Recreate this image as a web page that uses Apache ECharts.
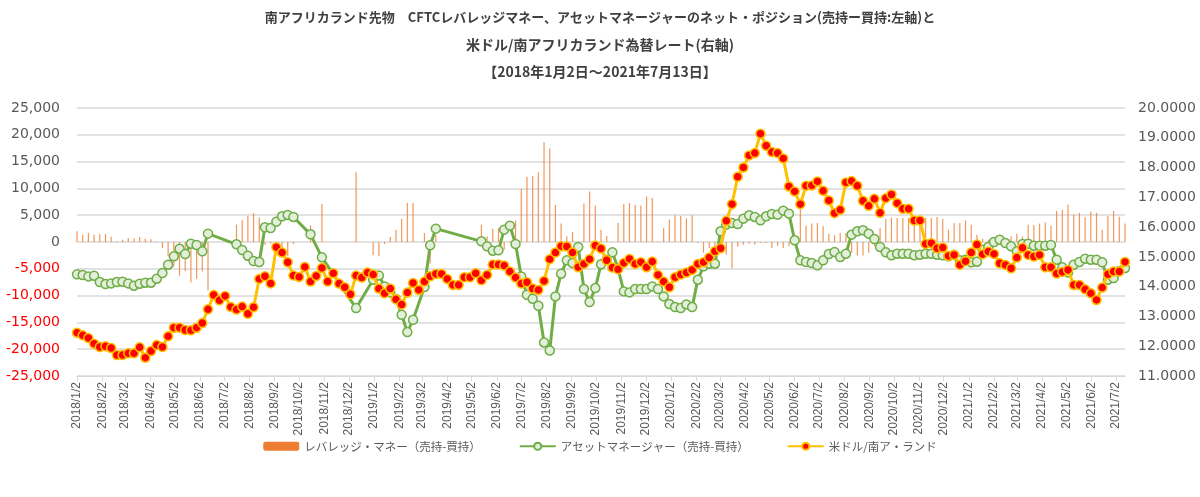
<!DOCTYPE html>
<html><head><meta charset="utf-8">
<script src="https://cdn.jsdelivr.net/npm/echarts@6/dist/echarts.min.js"></script>
<style>html,body{margin:0;padding:0;background:#fff}#c{width:1200px;height:497px}</style>
</head><body><div id="c"></div>
<script>
const dates = [
'2018-01-02','2018-01-09','2018-01-16','2018-01-23','2018-01-30','2018-02-06','2018-02-13','2018-02-20','2018-02-27','2018-03-06','2018-03-13','2018-03-20','2018-03-27','2018-04-03','2018-04-10','2018-04-17','2018-04-24','2018-05-01','2018-05-08','2018-05-15','2018-05-22','2018-05-29','2018-06-05','2018-06-12','2018-06-19','2018-06-26','2018-07-03','2018-07-10','2018-07-17','2018-07-24','2018-07-31','2018-08-07','2018-08-14','2018-08-21','2018-08-28','2018-09-04','2018-09-11','2018-09-18','2018-09-25','2018-10-02','2018-10-09','2018-10-16','2018-10-23','2018-10-30','2018-11-06','2018-11-13','2018-11-20','2018-11-27','2018-12-04','2018-12-11','2018-12-18','2018-12-25',
'2019-01-01','2019-01-08','2019-01-15','2019-01-22','2019-01-29','2019-02-05','2019-02-12','2019-02-19','2019-02-26','2019-03-05','2019-03-12','2019-03-19','2019-03-26','2019-04-02','2019-04-09','2019-04-16','2019-04-23','2019-04-30','2019-05-07','2019-05-14','2019-05-21','2019-05-28','2019-06-04','2019-06-11','2019-06-18','2019-06-25','2019-07-02','2019-07-09','2019-07-16','2019-07-23','2019-07-30','2019-08-06','2019-08-13','2019-08-20','2019-08-27','2019-09-03','2019-09-10','2019-09-17','2019-09-24','2019-10-01','2019-10-08','2019-10-15','2019-10-22','2019-10-29','2019-11-05','2019-11-12','2019-11-19','2019-11-26','2019-12-03','2019-12-10','2019-12-17','2019-12-24','2019-12-31',
'2020-01-07','2020-01-14','2020-01-21','2020-01-28','2020-02-04','2020-02-11','2020-02-18','2020-02-25','2020-03-03','2020-03-10','2020-03-17','2020-03-24','2020-03-31','2020-04-07','2020-04-14','2020-04-21','2020-04-28','2020-05-05','2020-05-12','2020-05-19','2020-05-26','2020-06-02','2020-06-09','2020-06-16','2020-06-23','2020-06-30','2020-07-07','2020-07-14','2020-07-21','2020-07-28','2020-08-04','2020-08-11','2020-08-18','2020-08-25','2020-09-01','2020-09-08','2020-09-15','2020-09-22','2020-09-29','2020-10-06','2020-10-13','2020-10-20','2020-10-27','2020-11-03','2020-11-10','2020-11-17','2020-11-24','2020-12-01','2020-12-08','2020-12-15','2020-12-22','2020-12-29',
'2021-01-05','2021-01-12','2021-01-19','2021-01-26','2021-02-02','2021-02-09','2021-02-16','2021-02-23','2021-03-02','2021-03-09','2021-03-16','2021-03-23','2021-03-30','2021-04-06','2021-04-13','2021-04-20','2021-04-27','2021-05-04','2021-05-11','2021-05-18','2021-05-25','2021-06-01','2021-06-08','2021-06-15','2021-06-22','2021-06-29','2021-07-06','2021-07-13'];

// レバレッジ・マネー（売持-買持）
const leveraged = [
1990,1340,1710,1340,1460,1520,960,120,430,750,
680,930,620,500,100,-1120,-2680,-4550,-6290,-5420,
-7540,-6850,-5510,-9060,null,null,null,null,3240,4050,
4860,5360,4550,-500,-300,-200,-1680,-2680,-370,null,
null,3110,null,7100,null,null,null,null,null,13010,
null,null,-2490,-2680,-370,930,2300,4360,7290,7290,
null,1680,-4000,1370,null,null,null,null,null,null,
null,3240,1060,2450,2620,-1430,200,3990,9900,12140,
12270,13010,18620,17440,6910,3430,1060,1870,100,7160,
9400,6790,2240,1120,0,3550,7100,7290,6910,6790,
8500,8220,150,2550,4200,4980,4830,4420,4980,-190,
-2000,-1100,-800,-2000,-2400,-4900,-870,-500,-310,-500,
-150,-190,-1120,-690,-1120,-810,-300,6230,3050,3430,
3550,2930,1560,1250,1700,1680,-2000,-2500,-2500,-2000,
-800,2620,4270,4580,4480,4480,4480,4480,4360,4480,
4480,4670,4300,2300,3550,3550,4050,3240,1370,620,
440,300,200,200,1060,1560,1060,3240,3180,3430,
3670,3050,5790,6040,6940,5080,5420,4640,5670,5420,
2300,4860,5850,4700,3430];

// アセットマネージャー（売持-買持）
const assetMgr = [
-6040,-6165,-6414,-6289,-7472,-7846,-7721,-7472,-7410,-7721,
-8157,-7784,-7597,-7597,-6850,-5791,-4234,-2678,-1245,-2242,
-311,-560,-1744,1557,null,null,null,null,-436,-1494,
-2553,-3549,-3736,2740,2615,3798,4795,5044,4670,null,
null,1432,null,-2864,null,null,null,null,null,-12330,
null,null,-7037,-6227,-8282,-9403,-10648,-13575,-16813,-14509,
null,-8406,-623,2491,null,null,null,null,null,null,
null,125,-810,-1619,-1557,2304,3051,-374,-6414,-9839,
-10586,-11894,-18743,-20238,-10150,-5916,-3425,-3923,-934,-8780,
-11209,-8593,-4172,-3300,-1930,-5000,-9216,-9403,-8780,-8780,
-8780,-8282,-8780,-10150,-11582,-12143,-12330,-11645,-12143,-7037,
-4546,-4048,-4048,1993,3238,3549,3363,4359,4982,4670,
4048,4795,5231,5106,5853,5293,311,-3425,-3736,-3923,
-4359,-3425,-2242,-1868,-2802,-2179,1370,1993,2179,1557,
560,-934,-1930,-2491,-2179,-2179,-2179,-2491,-2366,-2179,
-2179,-2366,-2491,-2678,-2366,-3425,-3300,-3798,-3674,-1432,
-934,0,436,-187,-810,-1744,-374,-311,-685,-685,
-685,-560,-3300,-4733,-5667,-4234,-3736,-3113,-3300,-3300,
-3798,-7037,-6725,-5400,-4857];

// 米ドル/南ア・ランド
const usdZar = [
12.455,12.365,12.276,12.085,11.973,11.996,11.94,11.704,11.704,11.76,
11.76,11.962,11.614,11.839,12.04,11.973,12.332,12.623,12.623,12.545,
12.534,12.623,12.78,13.24,13.72,13.54,13.69,13.32,13.23,13.33,
13.09,13.31,14.26,14.35,14.11,15.325,15.146,14.82,14.372,14.327,
14.664,14.17,14.361,14.63,14.17,14.45,14.103,13.98,13.744,14.372,
14.305,14.473,14.406,13.935,13.778,13.935,13.576,13.397,13.8,14.126,
13.89,14.17,14.35,14.428,14.428,14.26,14.058,14.058,14.316,14.316,
14.45,14.215,14.395,14.742,14.742,14.709,14.507,14.305,14.103,14.148,
13.935,13.89,14.193,14.922,15.146,15.359,15.348,15.146,14.653,14.765,
14.922,15.381,15.28,14.888,14.641,14.585,14.798,14.933,14.765,14.821,
14.653,14.843,14.395,14.17,13.98,14.316,14.406,14.473,14.563,14.765,
14.821,14.978,15.19,15.291,16.21,16.771,17.691,18.004,18.408,18.487,
19.137,18.733,18.52,18.487,18.307,17.366,17.197,16.771,17.388,17.4,
17.534,17.22,16.895,16.469,16.58,17.5,17.545,17.388,16.883,16.715,
16.95,16.48,16.973,17.096,16.805,16.614,16.614,16.222,16.222,15.437,
15.46,15.291,15.314,15.034,15.067,14.731,14.854,15.146,15.415,15.09,
15.179,15.1,14.787,14.731,14.619,14.978,15.303,15.067,15.011,15.067,
14.652,14.652,14.44,14.496,14.563,14.058,14.058,13.912,13.778,13.554,
13.969,14.417,14.507,14.507,14.832];

const seriesNames = ['レバレッジ・マネー（売持-買持）','アセットマネージャー（売持-買持）','米ドル/南ア・ランド'];
const titleLines = ['南アフリカランド先物　CFTCレバレッジマネー、アセットマネージャーのネット・ポジション(売持ー買持:左軸)と',
                    '米ドル/南アフリカランド為替レート(右軸)',
                    '【2018年1月2日～2021年7月13日】'];

function ts(s){ const p = s.split('-').map(Number); return Date.UTC(p[0], p[1]-1, p[2]); }
function fmtDate(v){ const d = new Date(v); return d.getUTCFullYear() + '/' + (d.getUTCMonth()+1) + '/' + d.getUTCDate(); }

// monthly tick positions (2nd of every month)
const tickValues = [];
for (let y = 2018; y <= 2021; y++) {
  for (let m = 0; m < 12; m++) {
    if (y === 2021 && m > 6) break;
    tickValues.push(Date.UTC(y, m, 2));
  }
}

const pair = arr => dates.map((d, i) => [ts(d), arr[i]]);
const tFont = {fontFamily: 'Noto Sans CJK JP', fontWeight: 'bold', color: '#404040', lineHeight: 27};

const chart = echarts.init(document.getElementById('c'), null, {renderer: 'canvas'});
chart.setOption({
  animation: false,
  backgroundColor: '#ffffff',
  title: {
    text: '{a|' + titleLines[0] + '}\n{b|' + titleLines[1] + '}\n{b|' + titleLines[2] + '}',
    left: 'center', top: -1,
    textStyle: {rich: {a: Object.assign({fontSize: 13}, tFont), b: Object.assign({fontSize: 14}, tFont)}}
  },
  legend: {
    bottom: 40, left: 'center', itemGap: 38, itemWidth: 36, itemHeight: 9,
    textStyle: {fontFamily: 'Noto Sans CJK JP', fontSize: 11.5, color: '#595959'},
    data: [{name: seriesNames[0], itemStyle: {opacity: 1}}, seriesNames[1], seriesNames[2]]
  },
  grid: {left: 77, right: 75, top: 108, bottom: 121, containLabel: false},
  xAxis: {
    type: 'value', min: ts(dates[0]), max: ts(dates[dates.length-1]),
    axisLine: {show: true, onZero: false, lineStyle: {color: '#d9d9d9', width: 1}},
    axisTick: {show: true, customValues: tickValues, length: 5, lineStyle: {color: '#d9d9d9'}},
    axisLabel: {customValues: tickValues, rotate: 90, formatter: v => fmtDate(v), color: '#595959',
      fontFamily: 'Liberation Sans', fontSize: 12, margin: 6, hideOverlap: false,
      showMinLabel: true, showMaxLabel: true},
    splitLine: {show: false}
  },
  yAxis: [
    {type: 'value', min: -25000, max: 25000, interval: 5000,
     axisLine: {show: false}, axisTick: {show: false},
     splitLine: {lineStyle: {color: '#d9d9d9', width: 1.5}},
     axisLabel: {margin: 17, fontFamily: 'DejaVu Sans', fontSize: 14,
       formatter: v => v.toLocaleString('en-US'),
       color: v => (Number(v) < 0 ? '#ff0000' : '#595959')}},
    {type: 'value', min: 11, max: 20, interval: 1,
     axisLine: {show: false}, axisTick: {show: false}, splitLine: {show: false},
     axisLabel: {margin: 13, fontFamily: 'DejaVu Sans', fontSize: 14, color: '#595959',
       formatter: v => v.toFixed(4)}}
  ],
  series: [
    {name: seriesNames[0], type: 'bar', yAxisIndex: 0, data: pair(leveraged), barWidth: 1.2,
     itemStyle: {color: '#ED7D31', opacity: 0.8}, z: 1},
    {name: seriesNames[1], type: 'line', yAxisIndex: 0, data: pair(assetMgr), connectNulls: true,
     symbol: 'circle', symbolSize: 9, showAllSymbol: true,
     lineStyle: {color: '#70AD47', width: 3},
     itemStyle: {color: '#E2EFDA', borderColor: '#70AD47', borderWidth: 1.5}, z: 2},
    {name: seriesNames[2], type: 'line', yAxisIndex: 1, data: pair(usdZar),
     symbol: 'circle', symbolSize: 9, showAllSymbol: true,
     lineStyle: {color: '#FFC000', width: 3},
     itemStyle: {color: '#FF0000', borderColor: '#FFC000', borderWidth: 1.5}, z: 3}
  ]
});
</script></body></html>
